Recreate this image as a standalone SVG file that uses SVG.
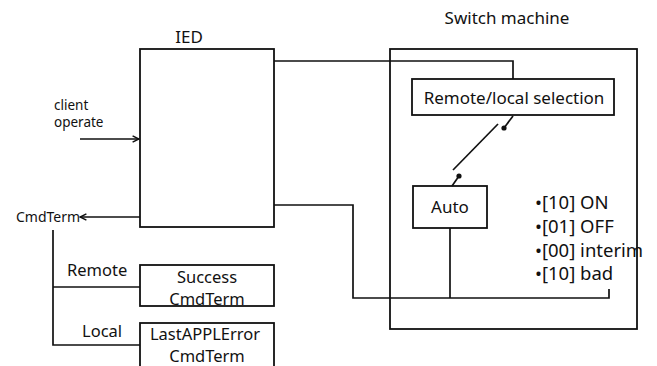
<svg xmlns="http://www.w3.org/2000/svg" width="657" height="366" viewBox="0 0 657 366">
<defs>
<style>
.box{fill:#fff;stroke:#111;stroke-width:1.8}
.frame{fill:none;stroke:#111;stroke-width:1.8}
.ln{fill:none;stroke:#111;stroke-width:1.7}
text{font-family:"Noto Sans","Liberation Sans",sans-serif;fill:#111}
.t17{font-size:17px}
.t16{font-size:16.5px}
.t14{font-size:14px}
.t13{font-size:13.5px}
.b{font-size:18.5px}
</style>
<marker id="arr" viewBox="0 0 10 10" refX="9" refY="5" markerWidth="8" markerHeight="8" markerUnits="userSpaceOnUse" orient="auto">
<path d="M1,1 L9,5 L1,9" fill="none" stroke="#111" stroke-width="1.8"/>
</marker>
</defs>
<rect width="657" height="366" fill="#fff"/>
<g id="ied">
<rect class="frame" x="140" y="49" width="134" height="178"/>
<text class="t17" x="189" y="43" text-anchor="middle">IED</text>
</g>
<g id="client">
<text class="t13" x="54" y="110">client</text>
<text class="t13" x="54" y="127">operate</text>
</g>
<g id="cmdterm">
<text class="t14" x="16" y="222">CmdTerm</text>
</g>
<g id="switch-machine">
<rect class="frame" x="390" y="49" width="247" height="280"/>
<text class="t17" x="507" y="24" text-anchor="middle">Switch machine</text>
</g>
<g id="remote-local">
<rect class="box" x="412" y="79" width="202" height="36"/>
<text class="t17" x="514" y="104" text-anchor="middle">Remote/local selection</text>
</g>
<g id="auto">
<rect class="box" x="413" y="186" width="74" height="42"/>
<text class="t17" x="450" y="213" text-anchor="middle">Auto</text>
</g>
<g id="states">
<text class="b" x="535" y="209">•[10] ON</text>
<text class="b" x="535" y="233">•[01] OFF</text>
<text class="b" x="535" y="257">•[00] interim</text>
<text class="b" x="535" y="280">•[10] bad</text>
</g>
<g id="remote">
<text class="t16" x="67" y="276">Remote</text>
</g>
<g id="local">
<text class="t16" x="82" y="337">Local</text>
</g>
<g id="success">
<rect class="box" x="140" y="265" width="134" height="41"/>
<text class="t16" x="207" y="283" text-anchor="middle">Success</text>
<text class="t16" x="207" y="305" text-anchor="middle">CmdTerm</text>
</g>
<g id="lastapplerror">
<rect class="box" x="140" y="323" width="134" height="50"/>
<text class="t16" x="205" y="340" text-anchor="middle">LastAPPLError</text>
<text class="t16" x="207" y="362" text-anchor="middle">CmdTerm</text>
</g>
<g id="connectors">
<polyline class="ln" points="274,61 513,61 513,79"/>
<polyline class="ln" points="274,205 353,205 353,298 609,298 609,289"/>
<line class="ln" x1="450" y1="228" x2="450" y2="298"/>
<line class="ln" x1="80" y1="139" x2="139" y2="139" marker-end="url(#arr)"/>
<line class="ln" x1="140" y1="217" x2="80" y2="217" marker-end="url(#arr)"/>
<polyline class="ln" points="53,230 53,345 140,345"/>
<line class="ln" x1="53" y1="287" x2="140" y2="287"/>
<line class="ln" x1="513" y1="116" x2="504" y2="128"/>
<line class="ln" x1="453" y1="170" x2="498" y2="124"/>
<circle cx="504" cy="128" r="2.6" fill="#111"/>
<circle cx="459" cy="176" r="2.6" fill="#111"/>
<line class="ln" x1="459" y1="176" x2="452" y2="186"/>
</g>
</svg>
